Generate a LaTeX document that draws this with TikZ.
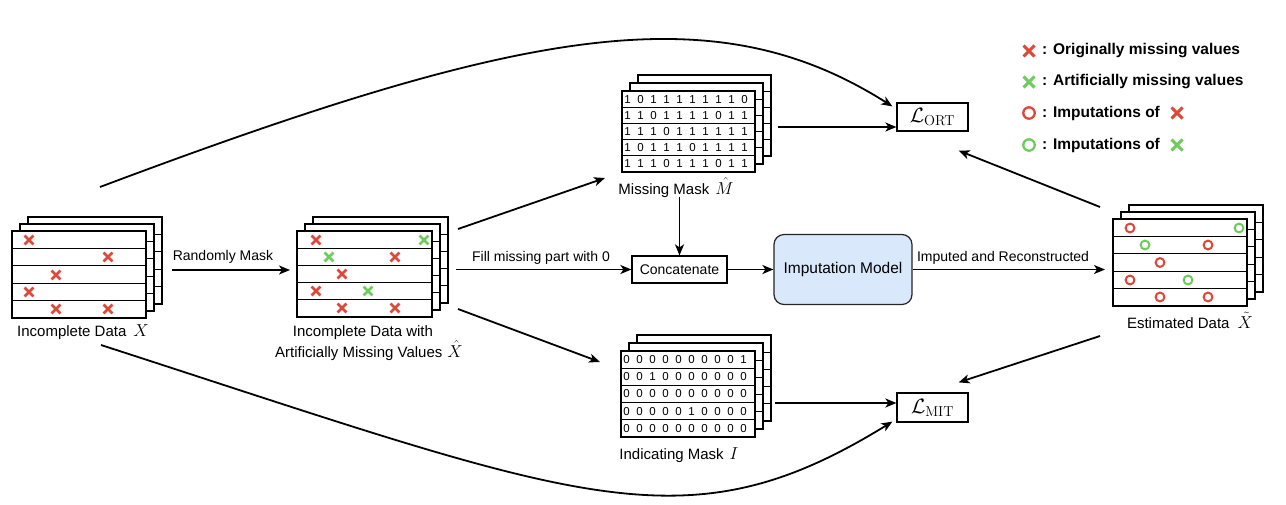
\documentclass[tikz,border=0pt]{standalone}
\usepackage[no-math]{fontspec}
\newfontfamily\arial{Liberation Sans}
\usetikzlibrary{arrows.meta,calc}
\definecolor{xred}{RGB}{221,72,56}
\definecolor{xgreen}{RGB}{110,205,90}
\definecolor{impblue}{RGB}{218,232,252}
\newcommand{\layerstack}[7]{% name, left, top, w, h, dx, dy
  \foreach \k in {2,1}{
    \pgfmathsetmacro{\lx}{#2+\k*#6}
    \pgfmathsetmacro{\ty}{#3-\k*#7}
    \draw[layer] (\lx,\ty) rectangle ++(#4,#5);
    \foreach \r in {1,...,4} \draw[rowline] (\lx,\ty+\r*#5/5) -- ++(#4,0);
  }
  \node[layer, minimum width=#4pt, minimum height=#5pt, anchor=north west, inner sep=0pt, outer sep=0pt] (#1) at (#2,#3) {};
  \foreach \r in {1,...,4} \draw[rowline] (#2,#3+\r*#5/5) -- ++(#4,0);
}
\newcommand{\mth}[1]{{\fontsize{19}{19}\selectfont$#1$}}
\begin{document}
\begin{tikzpicture}[x=1pt,y=-1pt,
  layer/.style={draw=black, line width=1.1pt, fill=white},
  rowline/.style={draw=black, line width=1.1pt},
  arr/.style={line width=1.8pt, -{Stealth[length=11pt,width=9pt,inset=3pt]}},
  lab/.style={font=\arial\fontsize{15}{18}\selectfont, inner sep=0pt, anchor=base},
  alab/.style={font=\arial\fontsize{14}{16}\selectfont, inner sep=0pt, anchor=base},
  digit/.style={font=\arial\fontsize{11.5}{12}\selectfont, inner sep=0pt},
  box/.style={draw=black, line width=1.2pt, fill=white, inner sep=0pt},
  leg/.style={font=\arial\bfseries\fontsize{15.5}{18}\selectfont, inner sep=0pt, anchor=west},
  xm/.pic={\draw[pic actions] (-4.4,-4.4) -- (4.4,4.4) (-4.4,4.4) -- (4.4,-4.4);},
  om/.pic={\draw[pic actions] (0,0) circle[radius=4.4];},
  xr/.style={draw=xred, line width=2.5pt},
  xg/.style={draw=xgreen, line width=2.5pt},
  orr/.style={draw=xred, line width=2pt},
  og/.style={draw=xgreen, line width=2pt},
]
\path[use as bounding box, fill=white] (0,0) rectangle (1286,504);

% data stacks
\layerstack{X}{12}{231}{134}{87}{8}{7}
\layerstack{Xh}{297}{231}{135}{86}{8}{7}
\layerstack{M}{622}{91}{133}{81}{8}{8}
\layerstack{I}{621}{351}{134}{86}{8}{8}
\layerstack{Xt}{1113}{219}{134}{87}{8}{7}

% marks in X
\pic[xr] at (29,240) {xm};
\pic[xr] at (108,257) {xm};
\pic[xr] at (56,275) {xm};
\pic[xr] at (29,292) {xm};
\pic[xr] at (56,309) {xm};
\pic[xr] at (108,309) {xm};
% marks in X hat
\pic[xr] at (316,240) {xm};
\pic[xg] at (424,240) {xm};
\pic[xg] at (329,257) {xm};
\pic[xr] at (395,257) {xm};
\pic[xr] at (342,274) {xm};
\pic[xr] at (316,291) {xm};
\pic[xg] at (368,291) {xm};
\pic[xr] at (342,308) {xm};
\pic[xr] at (395,308) {xm};
% marks in X tilde
\pic[orr] at (1130,228) {om};
\pic[og] at (1239,228) {om};
\pic[og] at (1145,245) {om};
\pic[orr] at (1208,245) {om};
\pic[orr] at (1160,262.5) {om};
\pic[orr] at (1130,280) {om};
\pic[og] at (1188,280) {om};
\pic[orr] at (1160,297) {om};
\pic[orr] at (1208,297) {om};

% mask digits
\foreach \row [count=\r] in {{1,0,1,1,1,1,1,1,1,0},{1,1,0,1,1,1,1,0,1,1},{1,1,1,0,1,1,1,1,1,1},{1,0,1,1,1,0,1,1,1,1},{1,1,1,0,1,1,1,0,1,1}}{
  \foreach \d [count=\c] in \row {
    \node[digit] (md\r-\c) at ({627.5+13*(\c-1)},{91+(\r-0.5)*16.2}) {\d};
  }
}
\foreach \row [count=\r] in {{0,0,0,0,0,0,0,0,0,1},{0,0,1,0,0,0,0,0,0,0},{0,0,0,0,0,0,0,0,0,0},{0,0,0,0,0,1,0,0,0,0},{0,0,0,0,0,0,0,0,0,0}}{
  \foreach \d [count=\c] in \row {
    \node[digit] (id\r-\c) at ({626.5+13*(\c-1)},{351+(\r-0.5)*17.2}) {\d};
  }
}

% labels
\node[lab] (Xlab) at (83,336) {Incomplete Data\hspace{7pt}\mth{X}};
\node[lab] (Xhlab1) at (363,336) {Incomplete Data with};
\node[lab] (Xhlab2) at (369,357) {Artificially Missing Values\hspace{5pt}\mth{\hat{X}}};
\node[lab] (Mlab) at (676,194) {Missing Mask\hspace{6pt}\mth{\hat{M}}};
\node[lab] (Ilab) at (679,459) {Indicating Mask\hspace{6pt}\mth{I}};
\node[lab] (Xtlab) at (1190,328) {Estimated Data\hspace{8pt}\mth{\tilde{X}}};

% boxes
\node[box, minimum width=95pt, minimum height=27pt, font=\arial\fontsize{14}{16}\selectfont] (C) at (679.5,269.5) {Concatenate};
\node[draw=black!85, line width=1.2pt, fill=impblue, rounded corners=10pt, minimum width=138pt, minimum height=70pt, inner sep=0pt, font=\arial\fontsize{15.5}{18}\selectfont] (IM) at (843,269.5) {Imputation Model};
\node[box, minimum width=71pt, minimum height=28pt, font=\fontsize{22}{24}\selectfont] (LO) at (932.5,117) {$\mathcal{L}_{\mathrm{ORT}}$};
\node[box, minimum width=71pt, minimum height=29pt, font=\fontsize{22}{24}\selectfont] (LM) at (932.5,407.5) {$\mathcal{L}_{\mathrm{MIT}}$};

% connectors
\draw[arr] ($(X.east)+(26,-4.5)$) -- ($(Xh.west)+(-7,-4)$);
\node[alab] (t1) at (223,260) {Randomly Mask};
\draw[arr] ($(Xh.east)+(24,-4.5)$) -- (C.west);
\node[alab] (t2) at (541,261) {Fill missing part with 0};
\draw[arr] ($(Xh.north east)+(26,-2)$) -- ($(M.south west)+(-17,6)$);
\draw[arr] ($(Xh.south east)+(26,-8)$) -- ($(I.west)+(-21,-32)$);
\draw[arr] ($(C.north |- M.south)+(0,25)$) -- (C.north);
\coordinate (m1) at ($(M.east)+(23,-4.5)$);
\draw[arr] (m1) -- (m1 -| LO.west);
\draw[arr] (C.east) -- (IM.west);
\draw[arr] (IM.east) -- ($(Xt.west)+(-8,7)$);
\node[alab] (t3) at (1003,261) {Imputed and Reconstructed};
\draw[arr] ($(Xt.north west)+(-13,-12)$) -- ($(LO.south east)+(-10,19)$);
\draw[arr] ($(Xt.south west)+(-13,30)$) -- ($(LM.north east)+(-10,-10)$);
\coordinate (i1) at ($(I.east)+(20,9)$);
\draw[arr] (i1) -- (i1 -| LM.west);
\draw[arr] ($(X.north)+(21,-44)$) .. controls (528,26) and (715,-6) .. ($(LO.north west)+(-4,4)$);
\draw[arr] ($(X.south)+(22,27)$) .. controls (580,500) and (684,550) .. ($(LM.south west)+(-4,-1)$);

% legend
\pic[draw=xred, line width=3pt, scale=1.25] at (1029,51) {xm};
\node[leg] (L1) at (1042,51) {: Originally missing values};
\pic[draw=xgreen, line width=3pt, scale=1.25] at (1029,82) {xm};
\node[leg] (L2) at (1042,82) {: Artificially missing values};
\path (1029,113) pic[draw=xred, line width=2.3pt, scale=1.3] {om};
\node[leg] (L3) at (1042,113) {: Imputations of};
\pic[draw=xred, line width=3pt, scale=1.25] at ($(L3.east)+(17,0)$) {xm};
\path (1029,145) pic[draw=xgreen, line width=2.3pt, scale=1.3] {om};
\node[leg] (L4) at (1042,145) {: Imputations of};
\pic[draw=xgreen, line width=3pt, scale=1.25] at ($(L4.east)+(17,0)$) {xm};
\end{tikzpicture}
\end{document}
